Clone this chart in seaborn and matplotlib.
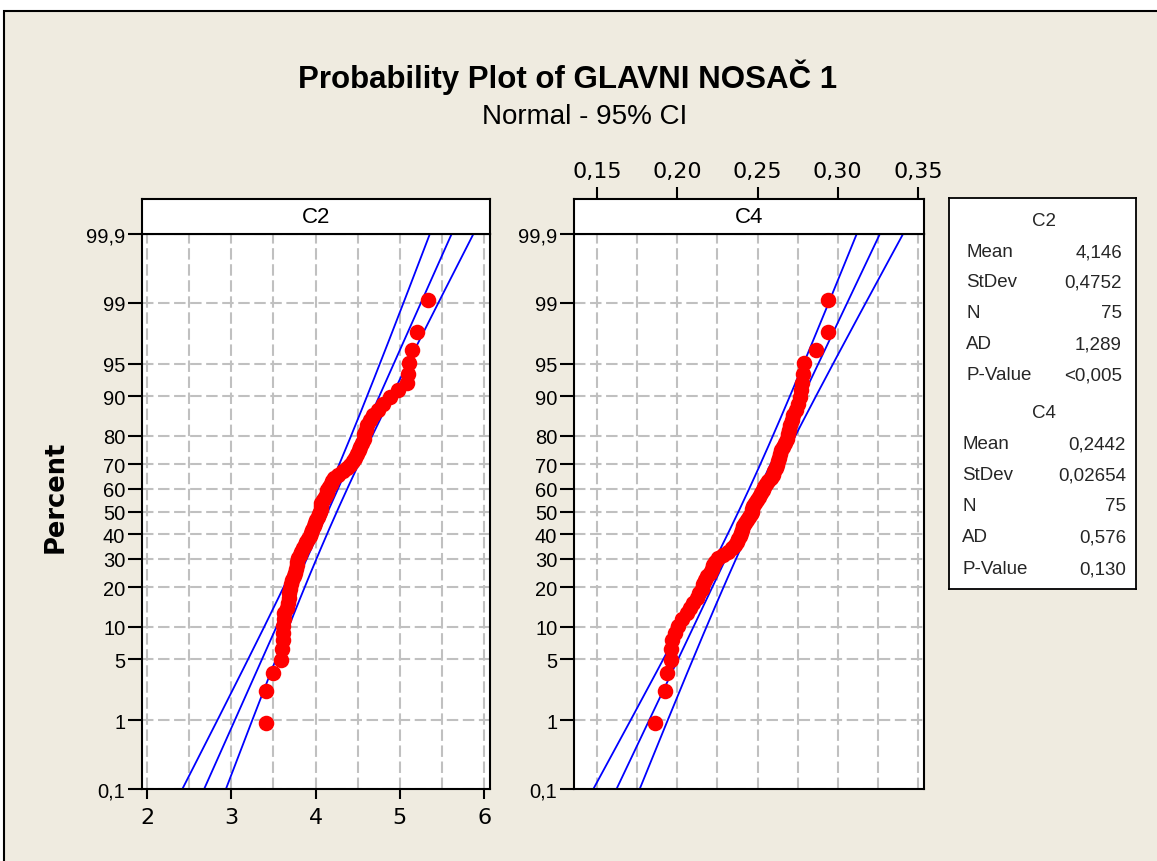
import numpy as np
import pandas as pd
import matplotlib
matplotlib.use("Agg")
import matplotlib.pyplot as plt
from matplotlib import font_manager as fm
from matplotlib.patches import Rectangle
from matplotlib.ticker import NullLocator
import seaborn as sns
from statistics import NormalDist

# ---------------- data ----------------
c2_values = [3.41, 3.41, 3.49, 3.59, 3.60, 3.61, 3.61, 3.61, 3.62, 3.63,
             3.66, 3.67, 3.68, 3.69, 3.70, 3.71, 3.72, 3.74, 3.76, 3.77,
             3.78, 3.78, 3.79, 3.81, 3.83, 3.855, 3.87, 3.89, 3.91, 3.935,
             3.95, 3.96, 3.98, 3.995, 4.01, 4.03, 4.04, 4.05, 4.06, 4.06,
             4.07, 4.09, 4.11, 4.13, 4.14, 4.165, 4.18, 4.20, 4.22, 4.27,
             4.32, 4.37, 4.41, 4.45, 4.47, 4.49, 4.51, 4.53, 4.55, 4.57,
             4.58, 4.60, 4.615, 4.64, 4.68, 4.745, 4.805, 4.885, 4.98, 5.08,
             5.10, 5.11, 5.15, 5.20, 5.34]
c4_values = [0.1861, 0.1924, 0.1938, 0.1960, 0.1964, 0.1966, 0.1986, 0.2007, 0.2028, 0.2059,
             0.2080, 0.2100, 0.2121, 0.2137, 0.2152, 0.2162, 0.2173, 0.2187, 0.2204, 0.2215,
             0.2225, 0.2235, 0.2256, 0.2287, 0.2318, 0.2339, 0.2360, 0.2370, 0.2380, 0.2391,
             0.2397, 0.2405, 0.2412, 0.2422, 0.2437, 0.2447, 0.2458, 0.2463, 0.2466, 0.2470,
             0.2484, 0.2495, 0.2509, 0.2522, 0.2532, 0.2542, 0.2553, 0.2567, 0.2582, 0.2595,
             0.2605, 0.2614, 0.2623, 0.2630, 0.2636, 0.2640, 0.2644, 0.2656, 0.2671, 0.2681,
             0.2692, 0.2698, 0.2702, 0.2712, 0.2723, 0.2740, 0.2754, 0.2765, 0.2771, 0.2779,
             0.2786, 0.2790, 0.2864, 0.2941, 0.2941]

c2_mean, c2_sd, c2_n = 4.146, 0.4752, 75
c4_mean, c4_sd, c4_n = 0.2442, 0.02654, 75

stat_names = ["Mean", "StDev", "N", "AD", "P-Value"]
c2_stat_text = ["4,146", "0,4752", "75", "1,289", "<0,005"]
c4_stat_text = ["0,2442", "0,02654", "75", "0,576", "0,130"]

pct_ticks = [0.1, 1, 5, 10, 20, 30, 40, 50, 60, 70, 80, 90, 95, 99, 99.9]
pct_labels = ["0,1", "1", "5", "10", "20", "30", "40", "50", "60", "70",
              "80", "90", "95", "99", "99,9"]
c2_xticks = [2, 3, 4, 5, 6]
c2_xticklabels = ["2", "3", "4", "5", "6"]
c2_gridx = [2, 2.5, 3, 3.5, 4, 4.5, 5, 5.5, 6]
c4_xticks = [0.15, 0.20, 0.25, 0.30, 0.35]
c4_xticklabels = ["0,15", "0,20", "0,25", "0,30", "0,35"]
c4_gridx = [0.15, 0.175, 0.20, 0.225, 0.25, 0.275, 0.30, 0.325, 0.35]

title = "Probability Plot of GLAVNI NOSAČ 1"
subtitle = "Normal - 95% CI"

# ---------------- style ----------------
sns.set_theme(style="white")
avail = {f.name for f in fm.fontManager.ttflist}
NARROW = ["Liberation Sans", "DejaVu Sans"] if "Liberation Sans" in avail else ["DejaVu Sans"]
WIDE = ["DejaVu Sans"]
plt.rcParams["font.family"] = WIDE

BG = "#EFEBE0"
GRID = "#C0C0C0"
W, H = 1157, 862

nd = NormalDist()
_ppf = np.vectorize(nd.inv_cdf, otypes=[float])
_cdf = np.vectorize(nd.cdf, otypes=[float])


def p_fwd(p):
    p = np.clip(np.asarray(p, dtype=float) / 100.0, 1e-10, 1 - 1e-10)
    return _ppf(p)


def p_inv(z):
    return _cdf(np.asarray(z, dtype=float)) * 100.0


fig = plt.figure(figsize=(W / 100, H / 100), dpi=100, facecolor="white")
fig.add_artist(Rectangle((4 / W, -0.05), 1.2, (H - 12) / H + 0.05,
                         transform=fig.transFigure, facecolor=BG,
                         edgecolor="black", lw=1.5, zorder=-10))


def fx(px):
    return px / W


def fy(py):
    return 1 - py / H


def panel(left_px, right_px, values, mean, sd, n, xlim, gridx,
          label, bottom_ticks, top_ticks):
    ax = fig.add_axes([fx(left_px), fy(790), (right_px - left_px) / W, (790 - 235) / H])
    strip = fig.add_axes([fx(left_px), fy(235), (right_px - left_px) / W, 35 / H])
    ax.set_facecolor("white")
    ax.set_yscale("function", functions=(p_fwd, p_inv))

    vals = np.sort(np.asarray(values, dtype=float))
    ranks = np.arange(1, len(vals) + 1)
    pct = (ranks - 0.3) / (len(vals) + 0.4) * 100
    df = pd.DataFrame({"value": vals, "percent": pct})

    # fitted line and 95% CI
    zg = np.linspace(p_fwd(0.1), p_fwd(99.9), 300)
    pg = p_inv(zg)
    fit = mean + zg * sd
    half = 1.96 * sd * np.sqrt((1 + zg ** 2 / 2) / n)
    for xs in (fit - half, fit, fit + half):
        ax.plot(xs, pg, color="#0000FF", lw=1.3, zorder=2)

    sns.scatterplot(data=df, x="value", y="percent", ax=ax, color="#FF0000",
                    s=125, linewidth=0, zorder=3, legend=False)

    ax.set_xlim(*xlim)
    ax.set_ylim(0.1, 99.9)
    ax.set_xlabel("")
    ax.set_ylabel("")

    ax.set_yticks(pct_ticks)
    ax.set_yticklabels(pct_labels, fontfamily=NARROW, fontsize=14.5)
    ax.yaxis.set_minor_locator(NullLocator())
    ax.set_xticks(gridx, minor=True)
    if bottom_ticks is not None:
        ax.set_xticks(bottom_ticks[0])
        ax.set_xticklabels(bottom_ticks[1], fontsize=16)
        ax.tick_params(axis="x", which="major", bottom=True, direction="out",
                       length=7, width=1.5, pad=6, colors="black")
    else:
        ax.set_xticks([])
    ax.tick_params(axis="x", which="minor", bottom=False, length=0)
    ax.tick_params(axis="y", which="major", left=True, direction="out",
                   length=10, width=1.5, pad=2, colors="black")
    ax.set_axisbelow(True)
    ax.grid(True, axis="x", which="both", color=GRID, lw=1.5,
            linestyle=(0, (5.5, 2.2)))
    ax.grid(True, axis="y", which="major", color=GRID, lw=1.5,
            linestyle=(0, (5.5, 2.2)))
    for s in ax.spines.values():
        s.set_color("black")
        s.set_linewidth(1.5)

    strip.set_facecolor("white")
    strip.set_xlim(*xlim)
    strip.set_ylim(0, 1)
    strip.set_yticks([])
    for s in strip.spines.values():
        s.set_color("black")
        s.set_linewidth(1.5)
    if top_ticks is not None:
        strip.xaxis.tick_top()
        strip.set_xticks(top_ticks[0])
        strip.set_xticklabels(top_ticks[1], fontsize=16)
        strip.tick_params(axis="x", top=True, bottom=False, direction="out",
                          length=9, width=1.5, pad=4, colors="black")
    else:
        strip.set_xticks([])
    strip.text(0.5, 0.5, label, transform=strip.transAxes, ha="center",
               va="center", fontsize=16, fontfamily=NARROW, color="black")
    return ax


panel(142, 490, c2_values, c2_mean, c2_sd, c2_n, (1.94, 6.07), c2_gridx,
      "C2", (c2_xticks, c2_xticklabels), None)
panel(574, 924, c4_values, c4_mean, c4_sd, c4_n, (0.1357, 0.3537), c4_gridx,
      "C4", None, (c4_xticks, c4_xticklabels))

# titles
fig.text(fx(568), fy(88), title, ha="center", va="baseline", fontsize=22.5,
         fontweight="bold", fontfamily=NARROW, color="black")
fig.text(fx(585), fy(124), subtitle, ha="center", va="baseline",
         fontsize=20, fontfamily=NARROW, color="black")
fig.text(fx(56), fy(497), "Percent", rotation=90, ha="center", va="center",
         fontsize=18.5, fontweight="bold", fontfamily=WIDE, color="black")

# statistics box
box = fig.add_axes([fx(949), fy(590), (1136 - 949) / W, (590 - 199) / H])
box.set_facecolor("white")
box.set_xticks([])
box.set_yticks([])
for s in box.spines.values():
    s.set_color("black")
    s.set_linewidth(1.3)


def bx(px):
    return (px - 949) / (1136 - 949)


def by(py):
    return (590 - py) / (590 - 199)


blocks = [("C2", c2_stat_text, 222, [253, 283, 314, 345, 376], 966, 1122),
          ("C4", c4_stat_text, 414, [445, 476, 507, 538, 570], 962, 1126)]
for head, texts, hy, rows, lx, rx in blocks:
    box.text(bx(1044), by(hy), head, ha="center", va="center",
             fontsize=13.5, fontfamily=NARROW, transform=box.transAxes)
    for name, val, ry in zip(stat_names, texts, rows):
        box.text(bx(lx), by(ry), name, ha="left", va="center",
                 fontsize=13.5, fontfamily=NARROW, transform=box.transAxes)
        box.text(bx(rx), by(ry), val, ha="right", va="center",
                 fontsize=13.5, fontfamily=NARROW, transform=box.transAxes)

fig.savefig("out.png", dpi=100, facecolor="white")
